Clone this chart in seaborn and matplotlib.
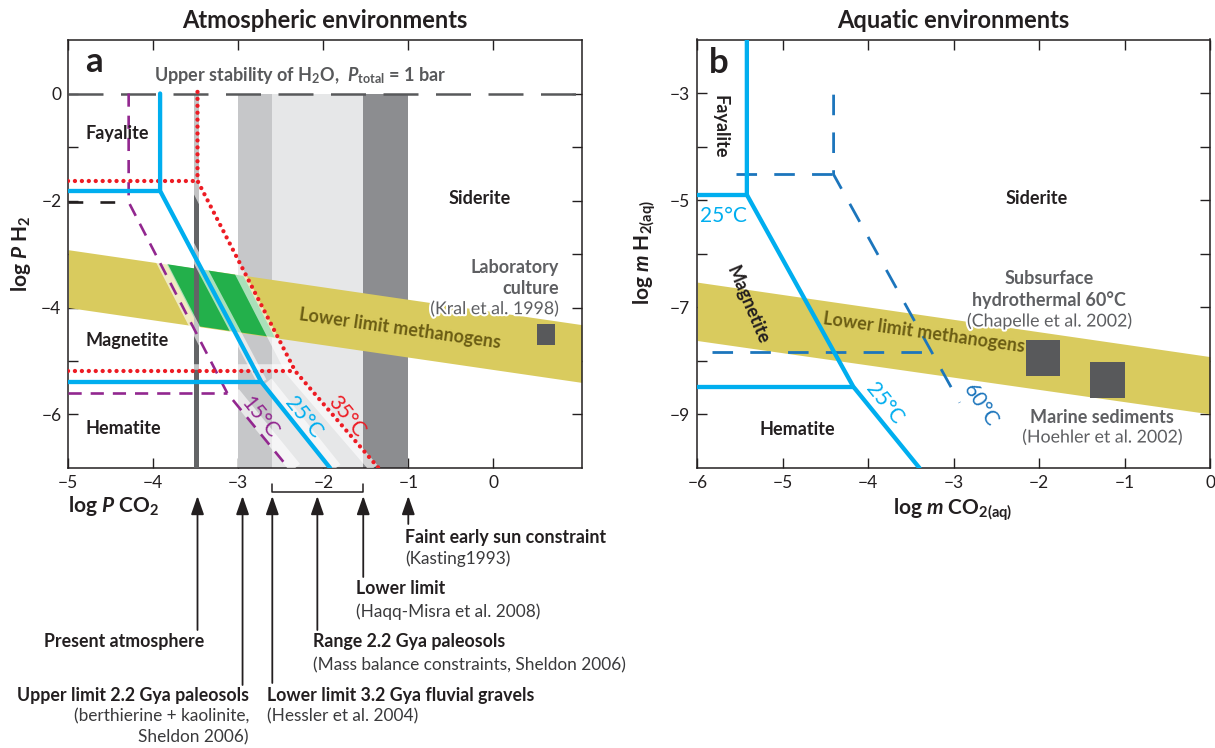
import matplotlib
matplotlib.use("Agg")
import matplotlib.pyplot as plt
import matplotlib.transforms as mtransforms
import matplotlib.patheffects as pe
import seaborn as sns

# ---------------- data : panel a (atmospheric) ----------------
a_band_left = [-3.0, -2.6, -1.53]
a_band_right = [-2.6, -1.53, -1.0]
a_present_bar = [-3.52, -3.46]
a_meth_x = [-5.0, 1.04]
a_meth_upper = [-2.92, -4.32]
a_meth_lower = [-4.00, -5.40]
a_green_x = [-3.84, -2.94, -2.57, -3.47]
a_green_y = [-3.19, -3.41, -4.56, -4.35]
a_lab_x = [0.51, 0.73]
a_lab_y = [-4.31, -4.70]
# isotherm boundaries  (siderite boundary path, fayalite/magnetite and magnetite/hematite lines)
a25_sid_x = [-3.92, -3.92, -2.73, -1.92]
a25_sid_y = [0.0, -1.82, -5.39, -7.0]
a25_fm_x = [-5.0, -3.92]
a25_fm_y = [-1.82, -1.82]
a25_mh_x = [-5.0, -2.73]
a25_mh_y = [-5.39, -5.39]
a35_sid_x = [-3.48, -3.48, -2.33, -1.35]
a35_sid_y = [0.03, -1.63, -5.19, -7.0]
a35_fm_x = [-5.0, -3.48]
a35_fm_y = [-1.63, -1.63]
a35_mh_x = [-5.0, -2.33]
a35_mh_y = [-5.19, -5.19]
a15_sid_x = [-4.29, -4.29, -3.13, -2.41]
a15_sid_y = [0.0, -2.03, -5.60, -7.0]
a15_fm_x = [-5.0, -4.42]
a15_fm_y = [-2.03, -2.03]
a15_mh_x = [-5.0, -3.13]
a15_mh_y = [-5.60, -5.60]
a_h2o_x = [-5.0, 1.04]
a_h2o_y = [0.0, 0.0]
a_arrow_x = [-3.48, -2.95, -2.6, -2.07, -1.53, -1.0]
a_bracket_x = [-2.6, -1.53]

# ---------------- data : panel b (aquatic) ----------------
b_meth_x = [-6.0, 0.0]
b_meth_upper = [-6.53, -7.92]
b_meth_lower = [-7.62, -8.99]
b25_sid_x = [-5.42, -5.42, -4.175, -3.40]
b25_sid_y = [-2.0, -4.90, -8.48, -10.0]
b25_fm_x = [-6.0, -5.42]
b25_fm_y = [-4.90, -4.90]
b25_mh_x = [-6.0, -4.175]
b25_mh_y = [-8.48, -8.48]
b60_sid_x = [-4.405, -4.405, -2.93]
b60_sid_y = [-3.03, -4.52, -8.78]
b60_fm_x = [-5.55, -4.405]
b60_fm_y = [-4.52, -4.52]
b60_mh_x = [-5.83, -3.30]
b60_mh_y = [-7.84, -7.84]
b_sq_x0 = [-2.15, -1.41]
b_sq_x1 = [-1.75, -0.99]
b_sq_y0 = [-7.61, -8.03]
b_sq_y1 = [-8.28, -8.69]

# ---------------- style ----------------
sns.set_theme(style="ticks")
plt.rcParams["font.family"] = ["Lato", "DejaVu Sans"]
plt.rcParams["mathtext.fontset"] = "custom"
plt.rcParams["mathtext.rm"] = "Lato"
plt.rcParams["mathtext.it"] = "Lato:italic"
plt.rcParams["mathtext.bf"] = "Lato:bold"
plt.rcParams["mathtext.bfit"] = "Lato:italic:bold"

INK = "#231f20"
GRAY_TXT = "#5e5f62"
CYAN = "#00aeef"
RED = "#ed1c24"
PURPLE = "#92278f"
DBLUE = "#1c75bc"
YELLOW = "#d9cb5e"
GREEN = "#23b04b"
OLIVE = "#6b5d14"

W, H = 1215, 748
fig = plt.figure(figsize=(W / 100, H / 100), dpi=100)


def px_axes(l, t, r, b):
    return [l / W, 1 - b / H, (r - l) / W, (b - t) / H]


ax_a = fig.add_axes(px_axes(68.3, 40, 581.7, 468))
ax_b = fig.add_axes(px_axes(697.3, 39.5, 1210, 468))


def ftext(x, y, s, **kw):
    fig.text(x / W, 1 - y / H, s, **kw)


def fmt(v):
    return "0" if v == 0 else "\u2212%d" % abs(v)


def line(ax, xs, ys, **kw):
    sns.lineplot(x=xs, y=ys, sort=False, estimator=None, ax=ax, **kw)


def style_axes(ax, xlim, ylim, xt, yt, ylab):
    ax.set_xlim(*xlim)
    ax.set_ylim(*ylim)
    ax.set_xticks(xt)
    ax.set_xticklabels([fmt(v) for v in xt])
    ax.set_yticks(yt)
    ax.set_yticklabels([fmt(v) if v in ylab else "" for v in yt])
    ax.tick_params(direction="in", length=7, width=1.0, top=True, right=True,
                   labelsize=12.5, pad=5, colors=INK)
    for s in ax.spines.values():
        s.set_linewidth(1.1)
        s.set_color(INK)
    ax.set_xlabel("")
    ax.set_ylabel("")


halo = dict(color="white", alpha=0.62, solid_capstyle="butt", zorder=4)
LBL = 13

# ================= panel a =================
ax = ax_a
band_cols = ["#c6c7c9", "#e6e7e8", "#8c8d90"]
for l, r, c in zip(a_band_left, a_band_right, band_cols):
    ax.fill_betweenx([-7.0, 0.0], l, r, color=c, lw=0, zorder=1)
ax.fill_between(a_meth_x, a_meth_lower, a_meth_upper, color=YELLOW, lw=0, zorder=2)
ax.fill(a_green_x, a_green_y, color=GREEN, lw=0, zorder=2.5)
ax.fill_betweenx([-7.0, 0.0], a_present_bar[0], a_present_bar[1], color="#636466", lw=0, zorder=3)

# translucent halos alongside isotherms
line(ax, [x - 0.01 for x in a35_sid_x[:2]], a35_sid_y[:2], linewidth=6, **halo)
line(ax, [x - 0.06 for x in a35_sid_x[1:]], a35_sid_y[1:], linewidth=7, **halo)
line(ax, [a_present_bar[0] - 0.03, a35_mh_x[1]], [y + 0.08 for y in a35_mh_y], linewidth=4, **halo)
line(ax, [x + 0.01 for x in a25_sid_x[1:3]], a25_sid_y[1:3], linewidth=7, **halo)
line(ax, [x + 0.07 for x in a25_sid_x[2:]], a25_sid_y[2:], linewidth=8, **halo)
line(ax, [x + 0.02 for x in a15_sid_x[1:3]], a15_sid_y[1:3], linewidth=7, **halo)
line(ax, [x + 0.08 for x in a15_sid_x[2:]], a15_sid_y[2:], linewidth=9, **halo)

# H2O stability
line(ax, a_h2o_x, a_h2o_y, color="#58595b", linewidth=1.8, linestyle=(0, (14, 7)), zorder=5)
# 15 C
p_dash = dict(color=PURPLE, linewidth=1.9, linestyle=(0, (5.0, 3.4)), zorder=5.2)
line(ax, a15_sid_x, a15_sid_y, **p_dash)
line(ax, a15_mh_x, a15_mh_y, **p_dash)
line(ax, a15_fm_x, a15_fm_y, color=INK, linewidth=1.9, linestyle=(0, (5.6, 6.5)), zorder=5.2)
# 35 C
r_dot = dict(color=RED, linewidth=3.1, linestyle=(0, (0.01, 1.6)), dash_capstyle="round", zorder=5.4)
line(ax, a35_sid_x, a35_sid_y, **r_dot)
line(ax, a35_fm_x, a35_fm_y, **r_dot)
line(ax, a35_mh_x, a35_mh_y, **r_dot)
# 25 C
c_sol = dict(color=CYAN, linewidth=3.1, solid_joinstyle="miter", zorder=5.6)
line(ax, a25_sid_x, a25_sid_y, **c_sol)
line(ax, a25_fm_x, a25_fm_y, **c_sol)
line(ax, a25_mh_x, a25_mh_y, **c_sol)

ax.fill_between(a_lab_x, a_lab_y[1], a_lab_y[0], color="#58595b", lw=0, zorder=6)

style_axes(ax, (-5, 1.04), (-7, 1.0), [-5, -4, -3, -2, -1, 0],
           [0, -1, -2, -3, -4, -5, -6], [0, -2, -4, -6])

bold = dict(fontweight="bold", fontsize=LBL, color=INK, zorder=7)
ax.text(-4.80, 0.58, "a", fontsize=25, fontweight="bold", color=INK, ha="left", va="center")
ax.text(-2.27, 0.33, r"Upper stability of H$_{\mathbf{2}}$O,  $\mathbfit{P}_{\mathbf{total}}$ = 1 bar",
        ha="center", va="center", fontsize=13, fontweight="bold", color="#58595b")
ax.text(-4.80, -0.75, "Fayalite", ha="left", va="center", **bold)
ax.text(-4.80, -4.61, "Magnetite", ha="left", va="center", **bold)
ax.text(-4.80, -6.27, "Hematite", ha="left", va="center", **bold)
ax.text(-0.16, -1.97, "Siderite", ha="center", va="center", **bold)
ax.text(0.77, -3.25, "Laboratory", ha="right", va="center", fontsize=LBL,
        fontweight="bold", color=GRAY_TXT)
ax.text(0.77, -3.64, "culture", ha="right", va="center", fontsize=LBL,
        fontweight="bold", color=GRAY_TXT)
ax.text(0.77, -4.03, "(Kral et al. 1998)", ha="right", va="center", fontsize=12.8,
        color=GRAY_TXT, path_effects=[pe.withStroke(linewidth=3, foreground="white")])
ax.text(-1.10, -4.39, "Lower limit methanogens", ha="center", va="center", rotation=-8,
        rotation_mode="anchor", fontsize=13, fontweight="bold", color=OLIVE, zorder=7)
ax.text(-2.745, -6.05, "15°C", ha="center", va="center", rotation=-51, rotation_mode="anchor",
        fontsize=15, color=PURPLE, zorder=7)
ax.text(-2.235, -6.05, "25°C", ha="center", va="center", rotation=-51, rotation_mode="anchor",
        fontsize=15, color=CYAN, zorder=7)
ax.text(-1.725, -6.04, "35°C", ha="center", va="center", rotation=-51, rotation_mode="anchor",
        fontsize=15, color=RED, zorder=7)

# arrows and bracket below panel a
trans_a = mtransforms.blended_transform_factory(ax.transData, fig.transFigure)
arrow_tail_px = [630, 685, 683, 630, 577, 524]
for x, tail in zip(a_arrow_x, arrow_tail_px):
    ax.annotate("", xy=(x, 1 - 496 / H), xytext=(x, 1 - tail / H),
                xycoords=trans_a, textcoords=trans_a, annotation_clip=False,
                arrowprops=dict(arrowstyle="-|>,head_length=0.8,head_width=0.28",
                                color=INK, lw=1.3, mutation_scale=14,
                                shrinkA=0, shrinkB=0))
ax.plot([a_bracket_x[0], a_bracket_x[0], a_bracket_x[1], a_bracket_x[1]],
        [1 - 484 / H, 1 - 492 / H, 1 - 492 / H, 1 - 484 / H],
        transform=trans_a, clip_on=False, color=INK, lw=1.1)

# ================= panel b =================
ax = ax_b
ax.fill_between(b_meth_x, b_meth_lower, b_meth_upper, color=YELLOW, lw=0, zorder=2)
b_dash = dict(color=DBLUE, linewidth=2.0, linestyle=(0, (7.4, 6.2)), zorder=5)
line(ax, b60_sid_x, b60_sid_y, **b_dash)
line(ax, b60_fm_x, b60_fm_y, **b_dash)
line(ax, b60_mh_x, b60_mh_y, **b_dash)
line(ax, b25_sid_x, b25_sid_y, **c_sol)
line(ax, b25_fm_x, b25_fm_y, **c_sol)
line(ax, b25_mh_x, b25_mh_y, **c_sol)
for x0, x1, y0, y1 in zip(b_sq_x0, b_sq_x1, b_sq_y0, b_sq_y1):
    ax.fill_between([x0, x1], y1, y0, color="#58595b", lw=0, zorder=6)

style_axes(ax, (-6, 0), (-10, -2), [-6, -5, -4, -3, -2, -1, 0],
           [-3, -4, -5, -6, -7, -8, -9], [-3, -5, -7, -9])

ax.text(-5.75, -2.44, "b", fontsize=25, fontweight="bold", color=INK, ha="center", va="center")
ax.text(-5.73, -3.62, "Fayalite", rotation=-90, ha="center", va="center", **bold)
ax.text(-5.69, -5.29, "25°C", ha="center", va="center", fontsize=15, color=CYAN)
ax.text(-2.03, -4.96, "Siderite", ha="center", va="center", **bold)
ax.text(-5.41, -6.95, "Magnetite", rotation=-67, rotation_mode="anchor",
        ha="center", va="center", **bold)
ax.text(-4.83, -9.29, "Hematite", ha="center", va="center", **bold)
ax.text(-3.81, -8.80, "25°C", rotation=-51, rotation_mode="anchor", ha="center",
        va="center", fontsize=15, color=CYAN)
ax.text(-2.68, -8.83, "60°C", rotation=-57, rotation_mode="anchor", ha="center",
        va="center", fontsize=15, color=DBLUE)
ax.text(-3.35, -7.47, "Lower limit methanogens", ha="center", va="center", rotation=-8,
        rotation_mode="anchor", fontsize=13, fontweight="bold", color=OLIVE, zorder=7)
gb = dict(ha="center", va="center", fontsize=LBL, fontweight="bold", color=GRAY_TXT)
gr = dict(ha="center", va="center", fontsize=12.8, color=GRAY_TXT,
          path_effects=[pe.withStroke(linewidth=3, foreground="white")])
ax.text(-1.88, -6.47, "Subsurface", **gb)
ax.text(-1.88, -6.86, "hydrothermal 60°C", **gb)
ax.text(-1.88, -7.26, "(Chapelle et al. 2002)", **gr)
ax.text(-1.26, -9.05, "Marine sediments", **gb)
ax.text(-1.26, -9.43, "(Hoehler et al. 2002)", **gr)

# ================= figure texts =================
ftext(325, 20, "Atmospheric environments", ha="center", va="center",
      fontsize=17, fontweight="bold", color=INK)
ftext(953.5, 20, "Aquatic environments", ha="center", va="center",
      fontsize=17, fontweight="bold", color=INK)
ftext(114, 506, r"log $\mathbfit{P}$ CO$_{\mathbf{2}}$", ha="center", va="center",
      fontsize=15, fontweight="bold", color=INK)
ftext(21, 254, r"log $\mathbfit{P}$ H$_{\mathbf{2}}$", ha="center", va="center",
      rotation=90, fontsize=15, fontweight="bold", color=INK)
ftext(953, 510, r"log $\mathbfit{m}$ CO$_{\mathbf{2(aq)}}$", ha="center", va="center",
      fontsize=15, fontweight="bold", color=INK)
ftext(645, 253, r"log $\mathbfit{m}$ H$_{\mathbf{2(aq)}}$", ha="center", va="center",
      rotation=90, fontsize=15, fontweight="bold", color=INK)

B = dict(fontsize=12.8, fontweight="bold", color=INK, va="center")
R = dict(fontsize=12.4, color="#3a3a3c", va="center")
ftext(405, 537, "Faint early sun constraint", ha="left", **B)
ftext(405, 559, "(Kasting1993)", ha="left", **R)
ftext(356.5, 589, "Lower limit", ha="left", **B)
ftext(356.5, 612, "(Haqq-Misra et al. 2008)", ha="left", **R)
ftext(313.4, 642, "Range 2.2 Gya paleosols", ha="left", **B)
ftext(313.4, 665, "(Mass balance constraints, Sheldon 2006)", ha="left", **R)
ftext(204, 642, "Present atmosphere", ha="right", **B)
ftext(249, 696, "Upper limit 2.2 Gya paleosols", ha="right", **B)
ftext(249, 716, "(berthierine + kaolinite,", ha="right", **R)
ftext(249, 737, "Sheldon 2006)", ha="right", **R)
ftext(267.4, 696, "Lower limit 3.2 Gya fluvial gravels", ha="left", **B)
ftext(267.4, 716, "(Hessler et al. 2004)", ha="left", **R)

fig.savefig("out.png", dpi=100)
